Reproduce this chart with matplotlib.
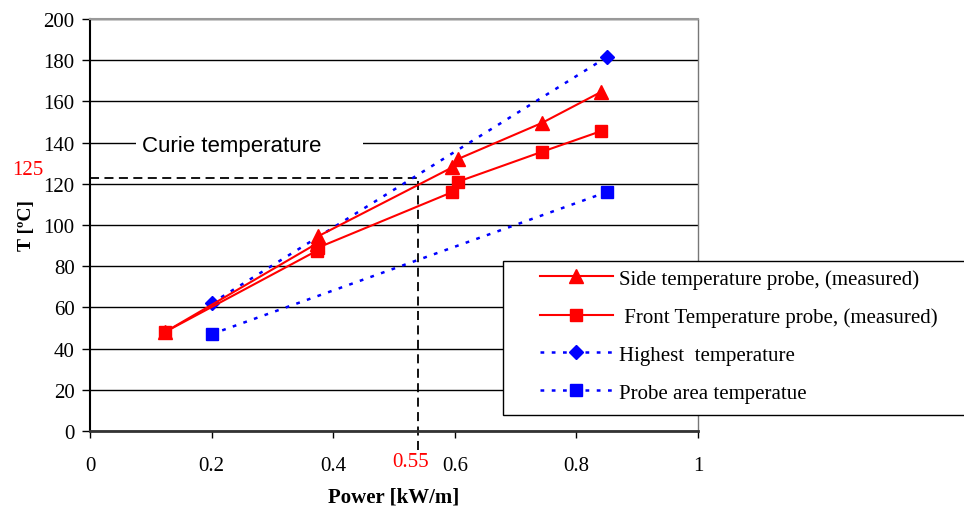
import matplotlib
matplotlib.use("Agg")
import matplotlib.pyplot as plt
from matplotlib.patches import Rectangle

# data
side_x = [0.123, 0.373, 0.375, 0.596, 0.605, 0.743, 0.84]
side_y = [48, 91, 94.5, 128, 132, 149.5, 164.5]
front_x = [0.123, 0.373, 0.375, 0.596, 0.605, 0.743, 0.84]
front_y = [48, 87.5, 89, 116, 121, 135.5, 145.5]
high_x = [0.2, 0.85]
high_y = [62, 181.5]
probe_x = [0.2, 0.85]
probe_y = [47, 116]

curie_T = 123
curie_P = 0.54

x_ticks = [0, 0.2, 0.4, 0.6, 0.8, 1]
x_labels = ["0", "0.2", "0.4", "0.6", "0.8", "1"]
y_ticks = list(range(0, 201, 20))

serif = ["Liberation Serif", "DejaVu Serif"]
plt.rcParams["font.family"] = serif

fig = plt.figure(figsize=(9.64, 5.10), dpi=100)
ax = fig.add_axes([90 / 964, 78 / 510, 608 / 964, 412 / 510])

# measured probes
ax.plot(side_x, side_y, color="red", lw=1.5, marker="^", ms=9.5,
        label="Side temperature probe, (measured)", zorder=4)
ax.plot(front_x, front_y, color="red", lw=1.5, marker="s", ms=8.5,
        label=" Front Temperature probe, (measured)", zorder=4)
# calculated
ax.plot(high_x, high_y, color="blue", lw=1.8, ls=(0, (1.5, 3)), marker="D", ms=7,
        label="Highest  temperature", zorder=3)
ax.plot(probe_x, probe_y, color="blue", lw=1.8, ls=(0, (1.5, 3)), marker="s", ms=8.5,
        label="Probe area temperatue", zorder=3)

# Curie temperature markers
ax.plot([0, curie_P], [curie_T, curie_T], color="black", lw=1.3, ls=(0, (5, 3)), zorder=2)
ax.plot([curie_P, curie_P], [-9, curie_T], color="black", lw=1.3, ls=(0, (5, 3)),
        clip_on=False, zorder=2)
ax.add_patch(Rectangle((0.076, 133), 0.373, 10, facecolor="white", edgecolor="none", zorder=1.8))
ax.text(0.0855, 138.5, "Curie temperature", fontsize=16, va="center", ha="left",
        family=["Liberation Sans", "DejaVu Sans"], zorder=3)
ax.text(-0.102, 127, "125", color="red", fontsize=15, ha="center", va="center", clip_on=False)
ax.text(0.528, -15, "0.55", color="red", fontsize=15, ha="center", va="center", clip_on=False)

ax.set_xlim(0, 1)
ax.set_ylim(0, 200)
ax.set_xticks(x_ticks)
ax.set_xticklabels(x_labels)
ax.set_yticks(y_ticks)
ax.tick_params(axis="y", direction="out", length=6, width=1, pad=5, labelsize=15)
ax.tick_params(axis="x", direction="out", length=5, width=1, pad=13, labelsize=15)
ax.yaxis.grid(True, color="black", lw=1)
ax.xaxis.grid(False)

ax.spines["left"].set_linewidth(1.5)
ax.spines["bottom"].set_linewidth(2)
ax.spines["bottom"].set_color("#333333")
ax.spines["top"].set_color("#999999")
ax.spines["top"].set_linewidth(1.5)
ax.spines["right"].set_color("#777777")
ax.spines["right"].set_linewidth(1)

ax.set_xlabel("Power [kW/m]", fontsize=15, fontweight="bold", labelpad=8)
ax.set_ylabel("T [ºC]", fontsize=14, fontweight="bold", labelpad=6)

# legend frame drawn separately, it runs off the right edge of the figure
fig.patches.append(Rectangle((503 / 964, 1 - 416 / 510), 470 / 964, 154 / 510,
                             transform=fig.transFigure, facecolor="white",
                             edgecolor="black", lw=1, zorder=4))
handles, labels = ax.get_legend_handles_labels()
leg = fig.legend(handles, labels, loc="upper left", bbox_to_anchor=(540 / 964, 1 - 270 / 510),
                 bbox_transform=fig.transFigure, borderaxespad=0, borderpad=0,
                 frameon=False, fontsize=15, handlelength=3.5,
                 labelspacing=0.88, handletextpad=0.3)
leg.set_zorder(5)

fig.savefig("out.png", dpi=100)
